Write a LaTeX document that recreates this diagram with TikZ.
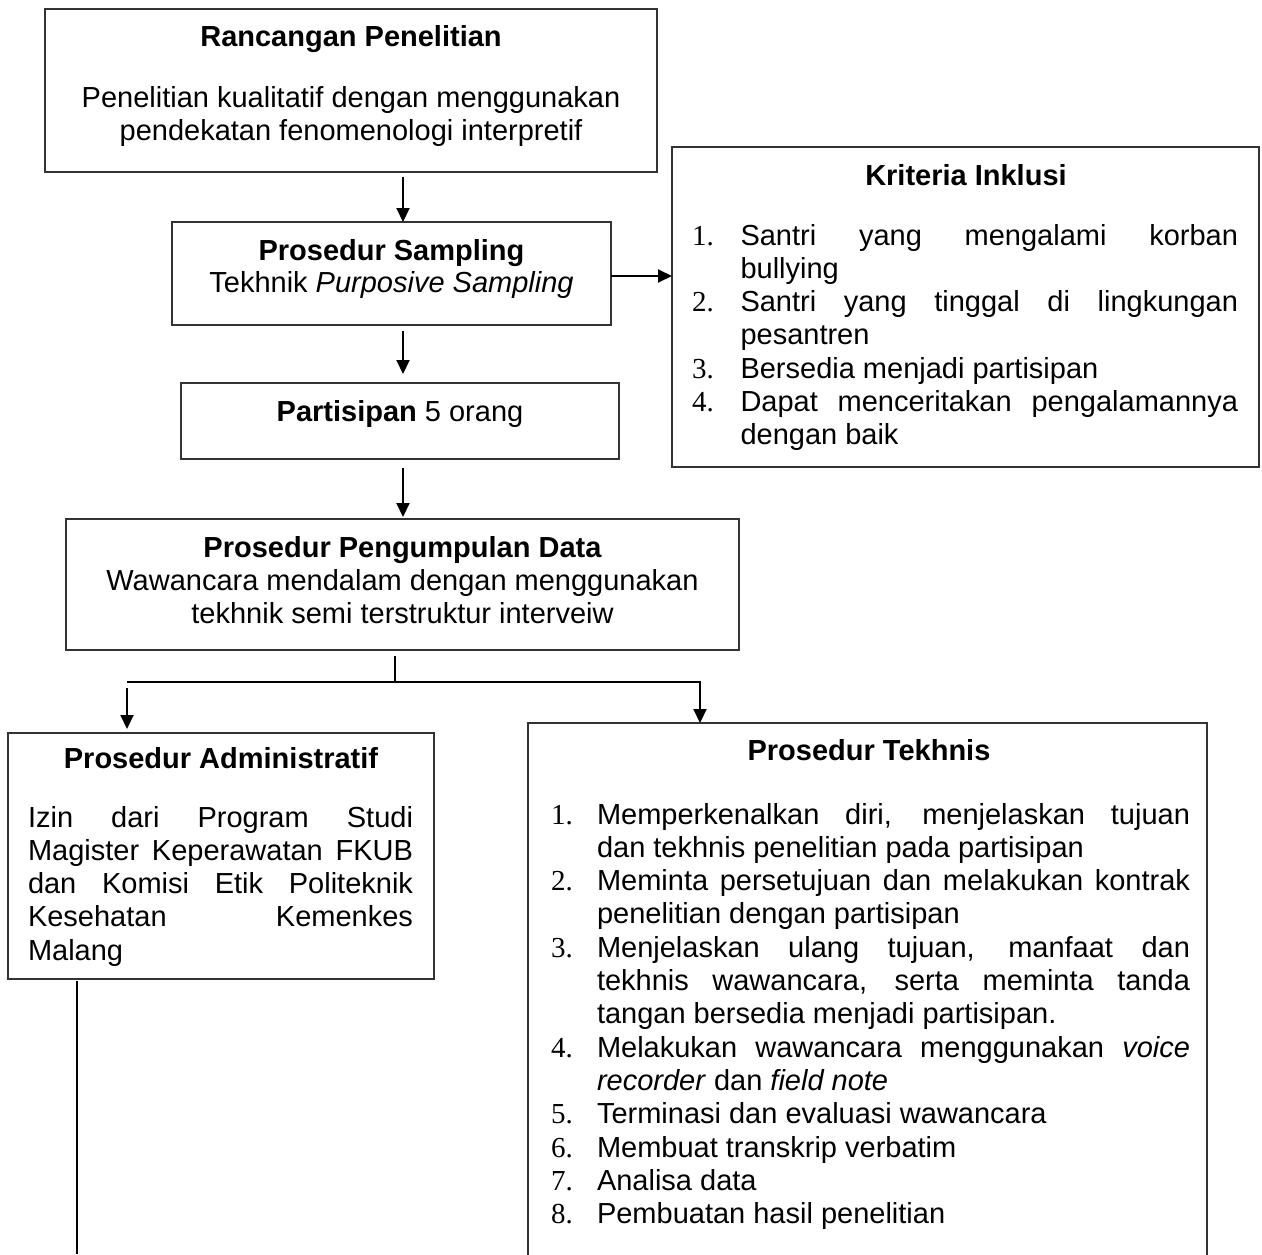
\documentclass[tikz,border=0pt]{standalone}
\usepackage{fontspec}
\setmainfont{Liberation Sans}
\newfontfamily\numfont{Liberation Serif}
\usetikzlibrary{arrows.meta}
\newcommand\fsz{\fontsize{29}{33.3}\selectfont}
\newlength\numw
\newlength\linew
\newcommand\Ij[2]{\hbox to \linew{\makebox[\numw][l]{\numfont #1}#2}}
\newcommand\Il[2]{\hbox to \linew{\makebox[\numw][l]{\numfont #1}#2\hfil}}
\newcommand\Cj[1]{\hbox to \linew{\hskip\numw #1}}
\newcommand\Cl[1]{\hbox to \linew{\hskip\numw #1\hfil}}
\newcommand\Jl[1]{\hbox to \linew{#1}}
\newcommand\Ll[1]{\hbox to \linew{#1\hfil}}
\newcommand\Cen[1]{\hbox to \linew{\hfil #1\hfil}}
\begin{document}
\begin{tikzpicture}[x=1pt,y=-1pt,
  box/.style={draw=black!80, line width=1.4pt, inner sep=0pt, outer sep=0pt},
  txt/.style={inner sep=0pt, outer sep=0pt, anchor=base, font=\fsz},
  arr/.style={line width=2pt, -{Triangle[length=14pt,width=13pt]}},
  conn/.style={line width=2pt}]
\path[use as bounding box] (0,0) rectangle (1262,1254);
\clip (0,0) rectangle (1262,1254);
\fill[white] (0,0) rectangle (1262,1254);

% boxes
\node[box, minimum width=612pt, minimum height=163pt] (A) at (351,90.5) {};
\node[box, minimum width=439pt, minimum height=103pt] (B) at (391.5,273.5) {};
\node[box, minimum width=438pt, minimum height=76pt] (C) at (400,421) {};
\node[box, minimum width=587pt, minimum height=320pt] (K) at (965.5,307) {};
\node[box, minimum width=673pt, minimum height=131pt] (D) at (402.5,584.5) {};
\node[box, minimum width=426pt, minimum height=246pt] (E) at (221,856) {};
\node[box, minimum width=679pt, minimum height=560pt] (F) at (867.5,1003) {};

% texts
\node[txt] (At) at (351,46) {\bfseries Rancangan Penelitian};
\node[txt] (Ab) at (351,107) {\setlength\linew{600pt}\vtop{\Cen{Penelitian kualitatif dengan menggunakan}\Cen{pendekatan fenomenologi interpretif}}};

\node[txt] (Bt) at (391.5,260) {\bfseries Prosedur Sampling};
\node[txt] (Bb) at (391.5,292) {Tekhnik \textit{Purposive Sampling}};

\node[txt] (Ct) at (400,421) {\textbf{Partisipan} 5 orang};

\node[txt] (Kt) at (966,185) {\bfseries Kriteria Inklusi};
\node[txt, anchor=base west] (Kb) at (692,245) {\setlength\linew{546pt}\setlength\numw{48.5pt}\vtop{%
  \Ij{1.}{Santri yang mengalami korban}%
  \Cl{bullying}%
  \Ij{2.}{Santri yang tinggal di lingkungan}%
  \Cl{pesantren}%
  \Il{3.}{Bersedia menjadi partisipan}%
  \Ij{4.}{Dapat menceritakan pengalamannya}%
  \Cl{dengan baik}}};

\node[txt] (Dt) at (402.5,557) {\bfseries Prosedur Pengumpulan Data};
\node[txt] (Db) at (402.5,590) {\setlength\linew{660pt}\vtop{\Cen{Wawancara mendalam dengan menggunakan}\Cen{tekhnik semi terstruktur interveiw}}};

\node[txt] (Et) at (221,768) {\bfseries Prosedur Administratif};
\node[txt, anchor=base west] (Eb) at (28,827) {\setlength\linew{385pt}\vtop{%
  \Jl{Izin dari Program Studi}%
  \Jl{Magister Keperawatan FKUB}%
  \Jl{dan Komisi Etik Politeknik}%
  \Jl{Kesehatan Kemenkes}%
  \Ll{Malang}}};

\node[txt] (Ft) at (869,760) {\bfseries Prosedur Tekhnis};
\node[txt, anchor=base west] (Fb) at (551,824) {\setlength\linew{639pt}\setlength\numw{46pt}\vtop{%
  \Ij{1.}{Memperkenalkan diri, menjelaskan tujuan}%
  \Cl{dan tekhnis penelitian pada partisipan}%
  \Ij{2.}{Meminta persetujuan dan melakukan kontrak}%
  \Cl{penelitian dengan partisipan}%
  \Ij{3.}{Menjelaskan ulang tujuan, manfaat dan}%
  \Cj{tekhnis wawancara, serta meminta tanda}%
  \Cl{tangan bersedia menjadi partisipan.}%
  \Ij{4.}{Melakukan wawancara menggunakan \textit{voice}}%
  \Cl{\textit{recorder} dan \textit{field note}}%
  \Il{5.}{Terminasi dan evaluasi wawancara}%
  \Il{6.}{Membuat transkrip verbatim}%
  \Il{7.}{Analisa data}%
  \Il{8.}{Pembuatan hasil penelitian}}};

% connectors
\coordinate (ax) at (403,0);
\coordinate (by) at (0,276);
\draw[arr, shorten <=5pt] (A.south -| ax) -- (B.north -| ax);
\draw[arr, shorten <=6pt, shorten >=9pt] (B.south -| ax) -- (C.north -| ax);
\draw[arr, shorten <=9pt, shorten >=2pt] (C.south -| ax) -- (D.north -| ax);
\draw[arr] (B.east |- by) -- (K.west |- by);

\coordinate (bm) at (395,682);
\coordinate (bl) at (127,682);
\coordinate (br) at (700,682);
\draw[conn, shorten <=6pt] (D.south -| bm) -- (bm);
\draw[arr] (bl) -- (br) -- (F.north -| br);
\draw[arr, shorten <=6pt, shorten >=4pt] (bl) -- (E.north -| bl);
\coordinate (tail) at (77,1254);
\draw[conn, line width=1.6pt, shorten <=2pt] (E.south -| tail) -- (tail);
\end{tikzpicture}
\end{document}
